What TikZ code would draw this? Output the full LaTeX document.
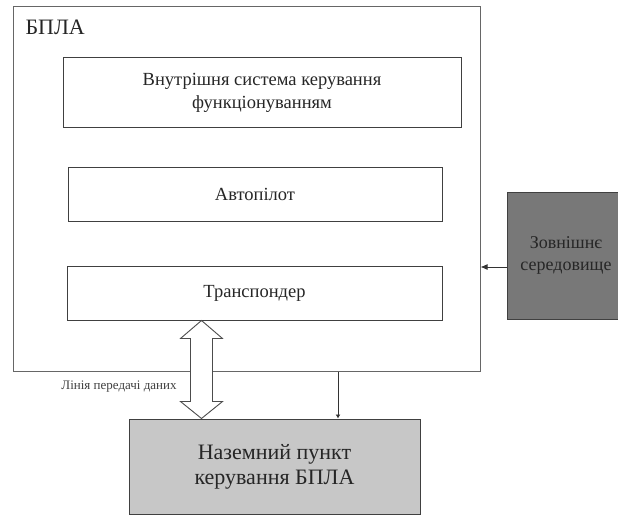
\documentclass[tikz,border=0pt]{standalone}
\usepackage{fontspec}
\setmainfont{Liberation Serif}
\newfontfamily\tnr{Liberation Serif}
\usetikzlibrary{calc,arrows.meta}
\begin{document}
\begin{tikzpicture}[x=1pt,y=-1pt,
  box/.style={draw=black!75,line width=1pt,fill=white,rectangle,inner sep=0pt,align=center,
    font=\tnr\fontsize{18.5}{23}\selectfont,text=black!85},
  conn/.style={draw=black!80,line width=1pt,-{Latex[length=7pt,width=6pt]}}]
\clip (0,0) rectangle (618,516);
\fill[white] (0,0) rectangle (618,516);
\node[box,draw=black!60,minimum width=467pt,minimum height=364pt] (bpla) at (246.5,189) {};
\node[anchor=base west,font=\tnr\fontsize{22}{24}\selectfont,text=black!85] (title) at (22,35) {БПЛА};
\node[box,minimum width=398pt,minimum height=70pt] (sys) at (262,93) {Внутрішня система керування\\функціонуванням};
\node[box,minimum width=374pt,minimum height=54pt] (ap) at (255,194) {Автопілот};
\node[box,minimum width=375pt,minimum height=54pt] (tr) at (254.5,293) {Транспондер};
\node[box,fill=black!53,minimum width=118pt,minimum height=127pt,font=\tnr\fontsize{18}{22}\selectfont] (ext) at (566,255.5) {Зовнішнє\\середовище};
\node[box,fill=black!22,minimum width=291pt,minimum height=95pt,font=\tnr\fontsize{22}{25}\selectfont] (gnd) at (274.5,466.5) {Наземний пункт\\керування БПЛА};
\node[font=\tnr\fontsize{13}{15}\selectfont,text=black!75] (lbl) at (119,387) {Лінія передачі даних};
% data link double arrow
\coordinate (ltop) at ($(tr.south west)+(135,0)$);
\coordinate (lbot) at (ltop |- gnd.north);
\draw[draw=black!70,line width=0.9pt,fill=white,line join=miter]
  (ltop) -- ++(21,18) -- ++(-10,0) -- ($(lbot)+(11,-17)$) -- ++(10,0) -- (lbot)
  -- ++(-21,-17) -- ++(10,0) -- ($(ltop)+(-11,18)$) -- ++(-10,0) -- cycle;
% external environment -> UAV
\coordinate (e1) at ($(ext.west)+(0,11.5)$);
\draw[conn] (e1) -- (bpla.east |- e1);
% UAV -> ground station
\coordinate (v1) at ($(bpla.south)+(91.5,0)$);
\draw[conn,-{Latex[length=4pt,width=5pt]}] (v1) -- (v1 |- gnd.north);
\end{tikzpicture}
\end{document}
